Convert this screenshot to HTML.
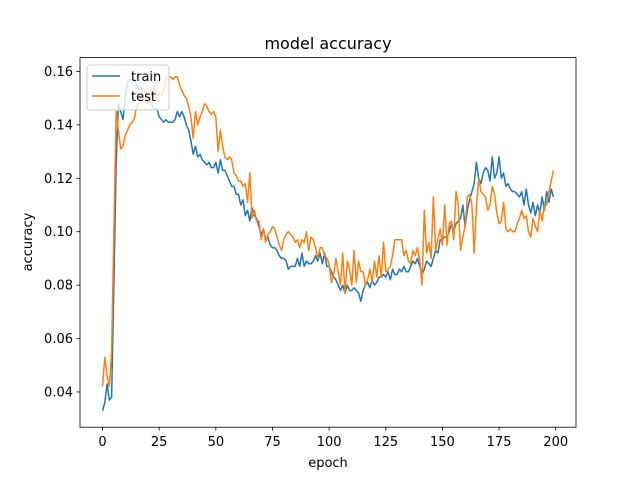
<!DOCTYPE html>
<html><head><meta charset="utf-8"><style>
body{margin:0;background:#fff}
svg{display:block;font-family:"DejaVu Sans","Liberation Sans",sans-serif}
</style></head><body>
<svg id="chart" width="640" height="480">
<rect x="0" y="0" width="640" height="480" fill="#fff"/>
<text x="328" y="49" font-size="16" text-anchor="middle">model accuracy</text>
<g id="plot"></g>
<rect x="80" y="57.6" width="496" height="369.6" fill="none" stroke="#000" stroke-width="0.8"/>
<text x="328" y="467" font-size="13" text-anchor="middle">epoch</text>
<text transform="translate(32,242) rotate(-90)" font-size="13" text-anchor="middle">accuracy</text>
<g>
<rect x="87" y="65" width="82" height="45" rx="3" fill="#fff" fill-opacity="0.8" stroke="#ccc"/>
<line x1="92" y1="76" x2="120" y2="76" stroke="#1f77b4" stroke-width="1.5"/>
<text x="131" y="81" font-size="13">train</text>
<line x1="92" y1="96" x2="120" y2="96" stroke="#ff7f0e" stroke-width="1.5"/>
<text x="131" y="101" font-size="13">test</text>
</g>
</svg>
<script>
const train=[0.033,0.036,0.043,0.037,0.038,0.08,0.125,0.148,0.145,0.142,0.15,0.156,0.157,0.157,0.157,0.155,0.153,0.154,0.152,0.153,0.150,0.149,0.147,0.146,0.146,0.143,0.142,0.141,0.142,0.141,0.141,0.141,0.142,0.145,0.143,0.145,0.143,0.14,0.138,0.134,0.129,0.132,0.128,0.129,0.127,0.126,0.125,0.126,0.124,0.124,0.126,0.122,0.127,0.123,0.123,0.121,0.119,0.117,0.117,0.114,0.114,0.110,0.112,0.106,0.108,0.104,0.109,0.106,0.105,0.102,0.099,0.101,0.097,0.098,0.095,0.094,0.094,0.093,0.091,0.090,0.090,0.089,0.086,0.087,0.087,0.087,0.090,0.087,0.092,0.087,0.089,0.088,0.088,0.089,0.091,0.089,0.092,0.088,0.092,0.087,0.087,0.085,0.083,0.082,0.080,0.078,0.080,0.077,0.080,0.078,0.078,0.079,0.078,0.077,0.074,0.078,0.080,0.081,0.079,0.082,0.080,0.081,0.083,0.083,0.084,0.083,0.085,0.082,0.086,0.084,0.084,0.086,0.085,0.087,0.085,0.085,0.087,0.089,0.088,0.090,0.087,0.084,0.086,0.089,0.088,0.087,0.090,0.093,0.092,0.097,0.097,0.098,0.098,0.100,0.103,0.100,0.103,0.104,0.105,0.110,0.102,0.108,0.112,0.115,0.118,0.126,0.120,0.118,0.122,0.124,0.123,0.119,0.128,0.120,0.122,0.128,0.120,0.122,0.117,0.118,0.116,0.115,0.115,0.114,0.113,0.115,0.110,0.116,0.110,0.107,0.111,0.106,0.110,0.107,0.113,0.108,0.115,0.111,0.116,0.113];
const test=[0.042,0.053,0.046,0.042,0.055,0.10,0.145,0.138,0.131,0.132,0.136,0.138,0.140,0.141,0.142,0.147,0.148,0.150,0.152,0.153,0.148,0.150,0.152,0.155,0.150,0.152,0.151,0.153,0.157,0.158,0.158,0.157,0.158,0.158,0.155,0.153,0.151,0.150,0.147,0.143,0.135,0.145,0.140,0.143,0.145,0.148,0.147,0.145,0.144,0.145,0.143,0.130,0.138,0.132,0.128,0.127,0.128,0.127,0.122,0.121,0.119,0.119,0.117,0.118,0.111,0.122,0.105,0.108,0.104,0.104,0.097,0.101,0.096,0.099,0.100,0.102,0.101,0.098,0.095,0.093,0.097,0.099,0.100,0.099,0.098,0.096,0.097,0.094,0.097,0.096,0.100,0.093,0.098,0.097,0.094,0.090,0.094,0.094,0.091,0.090,0.088,0.081,0.084,0.090,0.085,0.080,0.092,0.077,0.089,0.086,0.080,0.093,0.081,0.089,0.085,0.085,0.080,0.082,0.086,0.081,0.089,0.083,0.091,0.083,0.096,0.085,0.086,0.087,0.091,0.097,0.097,0.097,0.097,0.091,0.093,0.089,0.088,0.093,0.091,0.094,0.089,0.080,0.108,0.092,0.096,0.090,0.113,0.093,0.097,0.101,0.095,0.110,0.095,0.103,0.104,0.097,0.115,0.110,0.093,0.098,0.102,0.113,0.114,0.110,0.092,0.109,0.120,0.115,0.114,0.113,0.108,0.110,0.117,0.114,0.107,0.103,0.104,0.111,0.101,0.100,0.101,0.100,0.100,0.103,0.105,0.108,0.105,0.106,0.100,0.098,0.105,0.102,0.100,0.108,0.104,0.110,0.110,0.115,0.119,0.123];
const xTicks=[0,25,50,75,100,125,150,175,200];
const yTicks=[0.04,0.06,0.08,0.10,0.12,0.14,0.16];
const NS="http://www.w3.org/2000/svg";
const X0=80,X1=576,Y0=57.6,Y1=427.2;
const xmin=-9.95,xmax=208.95,ymin=0.0268,ymax=0.1652;
const sx=v=>X0+(v-xmin)/(xmax-xmin)*(X1-X0);
const sy=v=>Y1-(v-ymin)/(ymax-ymin)*(Y1-Y0);
const g=document.getElementById('plot');
function mk(t,a){const e=document.createElementNS(NS,t);for(const k in a)e.setAttribute(k,a[k]);g.appendChild(e);return e;}
xTicks.forEach(t=>{
  const l=mk('line',{x1:sx(t),x2:sx(t),y1:Y1,y2:Y1+3.5,stroke:'#000','stroke-width':0.8});
  
  
  const tx=mk('text',{x:sx(t),y:Y1+19,'font-size':13,'text-anchor':'middle'});tx.textContent=t;
  
  
});
yTicks.forEach(t=>{
  const l=mk('line',{x1:X0-3.5,x2:X0,y1:sy(t),y2:sy(t),stroke:'#000','stroke-width':0.8});
  
  
  const tx=mk('text',{x:X0-7,y:sy(t)+4.5,'font-size':13,'text-anchor':'end'});tx.textContent=t.toFixed(2);
  
  
});
function line(arr,c,name){
  const d=arr.map((v,i)=>(i?'L':'M')+sx(i).toFixed(2)+' '+sy(v).toFixed(2)).join(' ');
  const p=mk('path',{d:d,fill:'none',stroke:c,'stroke-width':1.5,'stroke-linejoin':'round'});
  
  
}
line(train,'#1f77b4','train-line');
line(test,'#ff7f0e','test-line');
</script>
</body></html>
